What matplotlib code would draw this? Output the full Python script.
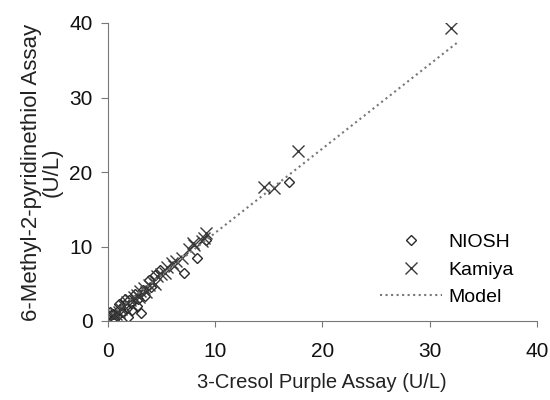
import matplotlib
matplotlib.use("Agg")
import matplotlib.pyplot as plt

plt.rcParams['font.family'] = ['Liberation Sans', 'DejaVu Sans']

# NIOSH points (3-cresol purple vs 6-methyl-2-pyridinethiol)
niosh_x = [16.9, 8.3, 9.2, 7.1, 4.9, 4.4, 3.8, 3.3, 3.1, 2.8, 2.5, 2.2, 2.0, 1.8, 1.5,
           1.3, 1.1, 0.9, 0.7, 0.5, 0.3, 0.2, 1.6, 2.3, 2.7, 3.5, 4.0, 1.0, 0.6, 1.9]
niosh_y = [18.7, 8.4, 10.9, 6.4, 6.9, 6.2, 5.5, 4.2, 1.1, 3.0, 3.6, 2.4, 2.8, 1.8, 2.2,
           1.2, 1.6, 0.7, 1.0, 0.9, 0.8, 1.2, 3.0, 1.5, 2.0, 3.3, 4.5, 2.3, 0.3, 0.5]

# Kamiya points
kamiya_x = [32.0, 17.7, 15.5, 14.6, 9.2, 9.0, 8.8, 8.0, 7.6, 7.9, 6.9, 6.4, 6.0, 5.5,
            5.0, 4.6, 4.2, 3.8, 3.4, 3.0, 2.7, 2.4, 2.1, 1.8, 1.5, 1.2, 1.0, 0.8, 0.6,
            2.9, 3.6, 4.4, 5.3, 6.2]
kamiya_y = [39.3, 22.8, 17.9, 18.0, 11.8, 11.2, 10.8, 10.2, 9.6, 10.5, 8.5, 8.0, 7.8, 7.2,
            6.3, 6.0, 5.3, 4.8, 4.4, 4.0, 3.5, 3.2, 2.8, 2.5, 2.0, 1.6, 1.2, 1.0, 0.7,
            3.2, 3.9, 5.0, 6.5, 7.4]

# model line endpoints
model_x = [0.0, 32.7]
model_y = [0.5, 37.5]

ticks = [0, 10, 20, 30, 40]

fig = plt.figure(figsize=(5.5, 4), dpi=100)
ax = fig.add_axes([0.196, 0.1975, 0.78, 0.745])

ax.plot(niosh_x, niosh_y, linestyle='none', marker='D', markersize=5.5,
        markerfacecolor='none', markeredgecolor='#2a2a2a', markeredgewidth=1.0, label='NIOSH')
ax.plot(kamiya_x, kamiya_y, linestyle='none', marker='x', markersize=8.5,
        color='#3a3a3a', markeredgewidth=1.0, label='Kamiya')
ax.plot(model_x, model_y, linestyle=':', color='#777777', linewidth=1.5, label='Model')

ax.set_xlim(0, 40)
ax.set_ylim(0, 40)
ax.set_xticks(ticks)
ax.set_yticks(ticks)
for s in ['top', 'right']:
    ax.spines[s].set_visible(False)
for s in ['left', 'bottom']:
    ax.spines[s].set_color('#777777')
ax.tick_params(axis='both', colors='#777777', labelcolor='#111111', labelsize=15)
ax.tick_params(axis='x', length=4, pad=11)
ax.tick_params(axis='y', length=5, pad=6)

ax.set_xlabel('3-Cresol Purple Assay (U/L)', fontsize=14.5, color='#222222', labelpad=9)
ax.set_ylabel('6-Methyl-2-pyridinethiol Assay\n(U/L)', fontsize=16, color='#222222',
              linespacing=0.95, labelpad=5)

ax.legend(loc='center left', bbox_to_anchor=(0.612, 0.172), frameon=False, fontsize=14,
          handlelength=3.2, handletextpad=0.3, borderpad=0, labelspacing=0.5)

fig.savefig('out.png', dpi=100)
